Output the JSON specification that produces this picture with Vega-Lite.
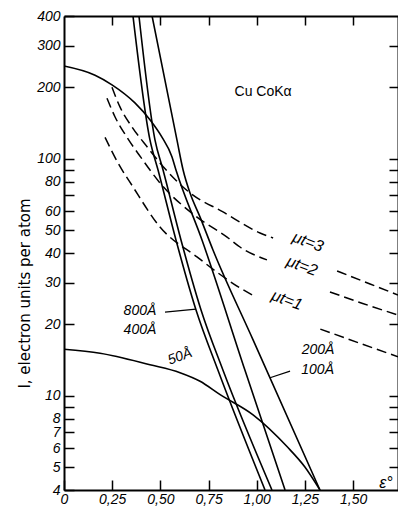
{
  "$schema": "https://vega.github.io/schema/vega-lite/v6.json",
  "width": 334,
  "height": 474,
  "autosize": "none",
  "padding": {"left": 64, "top": 16, "right": 0, "bottom": 18},
  "background": "white",
  "config": {
    "view": {"stroke": null},
    "axis": {
      "domainColor": "black", "domainWidth": 2, "tickColor": "black", "tickWidth": 1.5,
      "grid": false, "labelColor": "black", "labelFont": "Liberation Sans", "labelFontStyle": "italic",
      "labelFontSize": 14, "title": null
    }
  },
  "datasets": {
    "solid": [
      {"s": "800", "x": 0.358, "y": 400}, {"s": "800", "x": 0.446, "y": 120}, {"s": "800", "x": 0.488, "y": 89.6},
      {"s": "800", "x": 0.581, "y": 45.4}, {"s": "800", "x": 0.685, "y": 23.0}, {"s": "800", "x": 0.799, "y": 12.8},
      {"s": "800", "x": 1.043, "y": 4},
      {"s": "400", "x": 0.389, "y": 400}, {"s": "400", "x": 0.472, "y": 120}, {"s": "400", "x": 0.514, "y": 89.6},
      {"s": "400", "x": 0.607, "y": 45.4}, {"s": "400", "x": 0.711, "y": 23.0}, {"s": "400", "x": 0.825, "y": 12.8},
      {"s": "400", "x": 1.079, "y": 4},
      {"s": "200", "x": 0.457, "y": 400}, {"s": "200", "x": 0.586, "y": 120}, {"s": "200", "x": 0.618, "y": 89.6},
      {"s": "200", "x": 0.654, "y": 71.6}, {"s": "200", "x": 0.706, "y": 56.7}, {"s": "200", "x": 0.773, "y": 41.2},
      {"s": "200", "x": 0.981, "y": 17.2}, {"s": "200", "x": 1.328, "y": 4},
      {"s": "100", "x": 0, "y": 246}, {"s": "100", "x": 0.161, "y": 225}, {"s": "100", "x": 0.249, "y": 205},
      {"s": "100", "x": 0.368, "y": 172}, {"s": "100", "x": 0.446, "y": 146}, {"s": "100", "x": 0.509, "y": 123},
      {"s": "100", "x": 0.56, "y": 102}, {"s": "100", "x": 0.581, "y": 89.6}, {"s": "100", "x": 0.716, "y": 45.4},
      {"s": "100", "x": 0.939, "y": 12.8}, {"s": "100", "x": 1.147, "y": 4},
      {"s": "50", "x": 0, "y": 15.7}, {"s": "50", "x": 0.187, "y": 15.1}, {"s": "50", "x": 0.446, "y": 13.5},
      {"s": "50", "x": 0.602, "y": 12.5}, {"s": "50", "x": 0.706, "y": 11.5}, {"s": "50", "x": 0.81, "y": 10.1},
      {"s": "50", "x": 0.981, "y": 8.3}, {"s": "50", "x": 1.157, "y": 6.1}, {"s": "50", "x": 1.25, "y": 5.0},
      {"s": "50", "x": 1.328, "y": 4}
    ],
    "dashed": [
      {"seg": "3a", "x": 0.249, "y": 200}, {"seg": "3a", "x": 0.291, "y": 165}, {"seg": "3a", "x": 0.353, "y": 136},
      {"seg": "3a", "x": 0.436, "y": 111}, {"seg": "3a", "x": 0.498, "y": 96}, {"seg": "3a", "x": 0.654, "y": 71.7},
      {"seg": "3a", "x": 0.825, "y": 59.6}, {"seg": "3a", "x": 1.017, "y": 48.6}, {"seg": "3a", "x": 1.085, "y": 46.3},
      {"seg": "3b", "x": 1.417, "y": 33.6}, {"seg": "3b", "x": 1.588, "y": 29.6}, {"seg": "3b", "x": 1.733, "y": 26.6},
      {"seg": "2a", "x": 0.223, "y": 180}, {"seg": "2a", "x": 0.265, "y": 150}, {"seg": "2a", "x": 0.327, "y": 123},
      {"seg": "2a", "x": 0.4, "y": 101}, {"seg": "2a", "x": 0.498, "y": 79}, {"seg": "2a", "x": 0.69, "y": 56.7},
      {"seg": "2a", "x": 0.846, "y": 46.7}, {"seg": "2a", "x": 0.913, "y": 42.4}, {"seg": "2a", "x": 1.053, "y": 37.4},
      {"seg": "2b", "x": 1.38, "y": 27.4}, {"seg": "2b", "x": 1.55, "y": 24.5}, {"seg": "2b", "x": 1.733, "y": 21.9},
      {"seg": "1a", "x": 0.213, "y": 123}, {"seg": "1a", "x": 0.28, "y": 96}, {"seg": "1a", "x": 0.358, "y": 76},
      {"seg": "1a", "x": 0.498, "y": 51.5}, {"seg": "1a", "x": 0.69, "y": 38.5}, {"seg": "1a", "x": 0.913, "y": 28.5},
      {"seg": "1a", "x": 0.98, "y": 26.5},
      {"seg": "1b", "x": 1.33, "y": 19.1}, {"seg": "1b", "x": 1.53, "y": 16.7}, {"seg": "1b", "x": 1.733, "y": 14.6}
    ],
    "leaders": [
      {"id": "a", "x": 0.524, "y": 22.5}, {"id": "a", "x": 0.685, "y": 23.2},
      {"id": "b", "x": 1.069, "y": 11.9}, {"id": "b", "x": 1.173, "y": 12.7}
    ]
  },
  "layer": [
    {
      "data": {"name": "solid"},
      "mark": {"type": "line", "interpolate": "monotone", "color": "black", "strokeWidth": 1.6, "clip": true},
      "encoding": {
        "x": {"field": "x", "type": "quantitative", "scale": {"domain": [0, 1.733], "nice": false, "zero": false},
          "axis": {"orient": "bottom", "values": [0, 0.25, 0.5, 0.75, 1, 1.25, 1.5], "tickSize": -10, "labelPadding": 12,
            "labelExpr": "datum.value == 0 ? '0' : replace(format(datum.value, '.2f'), '.', ',')", "labelFlush": false, "labelOverlap": false}},
        "y": {"field": "y", "type": "quantitative", "scale": {"type": "log", "domain": [4, 400], "nice": false},
          "axis": {"orient": "left", "values": [4, 5, 6, 7, 8, 9, 10, 20, 30, 40, 50, 60, 70, 80, 90, 100, 200, 300, 400],
            "tickSize": -10, "labelPadding": 14, "labelOverlap": false, "labelFlush": false,
            "labelExpr": "indexof([9, 70, 90], datum.value) >= 0 ? '' : datum.label",
            "title": "I, electron units per atom", "titleFont": "DejaVu Sans", "titleFontSize": 15, "titleFontWeight": "normal",
            "titleColor": "black", "titleAngle": -90, "titleX": -32, "titleY": 277, "titleBaseline": "bottom", "titleAlign": "center"}},
        "detail": {"field": "s", "type": "nominal"}
      }
    },
    {
      "data": {"name": "dashed"},
      "mark": {"type": "line", "interpolate": "monotone", "color": "black", "strokeWidth": 1.5, "strokeDash": [10, 5], "clip": true},
      "encoding": {
        "x": {"field": "x", "type": "quantitative", "axis": null},
        "y": {"field": "y", "type": "quantitative", "axis": null},
        "detail": {"field": "seg", "type": "nominal"}
      }
    },
    {
      "data": {"name": "leaders"},
      "mark": {"type": "line", "color": "black", "strokeWidth": 1.2},
      "encoding": {
        "x": {"field": "x", "type": "quantitative", "axis": null},
        "y": {"field": "y", "type": "quantitative", "axis": null},
        "detail": {"field": "id", "type": "nominal"}
      }
    },
    {
      "data": {"values": [{"x": 1.033, "y": 191, "t": "Cu  CoKα"}]},
      "mark": {"type": "text", "font": "Liberation Sans", "fontSize": 14, "color": "black"},
      "encoding": {
        "x": {"field": "x", "type": "quantitative", "axis": null},
        "y": {"field": "y", "type": "quantitative", "axis": null},
        "text": {"field": "t"}
      }
    },
    {
      "data": {"values": [
        {"x": 0.394, "y": 22.8, "t": "800Å"}, {"x": 0.394, "y": 18.9, "t": "400Å"},
        {"x": 1.318, "y": 15.6, "t": "200Å"}, {"x": 1.316, "y": 12.8, "t": "100Å"}
      ]},
      "mark": {"type": "text", "font": "Liberation Sans", "fontStyle": "italic", "fontSize": 14, "color": "black"},
      "encoding": {
        "x": {"field": "x", "type": "quantitative", "axis": null},
        "y": {"field": "y", "type": "quantitative", "axis": null},
        "text": {"field": "t"}
      }
    },
    {
      "data": {"values": [{"x": 0.602, "y": 14.6, "t": "50Å"}]},
      "mark": {"type": "text", "font": "Liberation Sans", "fontStyle": "italic", "fontSize": 14, "color": "black", "angle": -20},
      "encoding": {
        "x": {"field": "x", "type": "quantitative", "axis": null},
        "y": {"field": "y", "type": "quantitative", "axis": null},
        "text": {"field": "t"}
      }
    },
    {
      "data": {"values": [{"x": 1.266, "y": 44.5, "t": "μt=3"}, {"x": 1.235, "y": 35.3, "t": "μt=2"}, {"x": 1.157, "y": 25.3, "t": "μt=1"}]},
      "mark": {"type": "text", "font": "Liberation Sans", "fontStyle": "italic", "fontSize": 16, "color": "black", "angle": 20},
      "encoding": {
        "x": {"field": "x", "type": "quantitative", "axis": null},
        "y": {"field": "y", "type": "quantitative", "axis": null},
        "text": {"field": "t"}
      }
    },
    {
      "data": {"values": [{"x": 1.671, "y": 4.3, "t": "ε°"}]},
      "mark": {"type": "text", "font": "Liberation Sans", "fontStyle": "italic", "fontSize": 16, "color": "black"},
      "encoding": {
        "x": {"field": "x", "type": "quantitative", "axis": {"orient": "top", "values": [0.25, 0.5, 0.75, 1, 1.25, 1.5], "labels": false, "tickSize": -9}},
        "y": {"field": "y", "type": "quantitative", "axis": {"orient": "right", "values": [5, 6, 7, 8, 9, 10, 20, 30, 40, 50, 60, 70, 80, 90, 100, 200, 300], "labels": false, "tickSize": -9}},
        "text": {"field": "t"}
      }
    }
  ],
  "resolve": {"axis": {"x": "independent", "y": "independent"}}
}
